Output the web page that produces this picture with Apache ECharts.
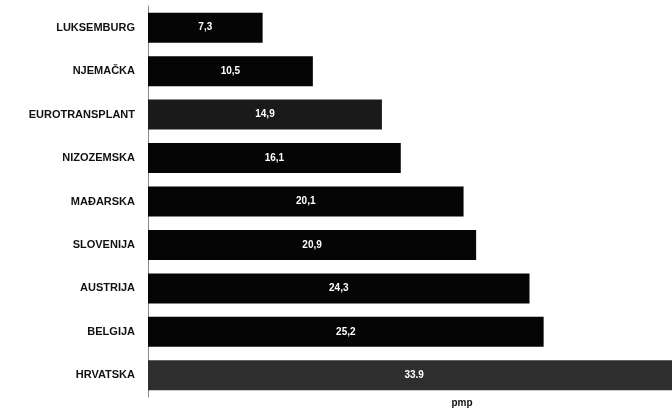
<!DOCTYPE html>
<html>
<head>
<meta charset="utf-8">
<script src="https://cdn.jsdelivr.net/npm/echarts@6/dist/echarts.min.js"></script>
<style>
  html, body { margin: 0; padding: 0; background: #fff; }
  #chart { width: 672px; height: 409px; }
</style>
</head>
<body>
<div id="chart"></div>
<script>
// zemlje, odozgo prema dolje
const countries = ['LUKSEMBURG', 'NJEMAČKA', 'EUROTRANSPLANT', 'NIZOZEMSKA', 'MAĐARSKA', 'SLOVENIJA', 'AUSTRIJA', 'BELGIJA', 'HRVATSKA']
const values = [7.3, 10.5, 14.9, 16.1, 20.1, 20.9, 24.3, 25.2, 33.9]
const valueLabels = ['7,3', '10,5', '14,9', '16,1', '20,1', '20,9', '24,3', '25,2', '33.9']
const barColors = ['#050505', '#050505', '#1a1a1a', '#050505', '#050505', '#050505', '#050505', '#050505', '#2e2e2e']

const myChart = echarts.init(document.getElementById('chart'))

myChart.setOption({
  animation: false,
  grid: {
    left: 148,
    top: 6,
    width: 628, // os ide do 40, desni dio je odrezan kao na slici
    height: 391,
    outerBoundsMode: 'none'
  },
  xAxis: {
    type: 'value',
    min: 0,
    max: 40,
    name: 'pmp',
    nameLocation: 'middle',
    nameGap: 1,
    nameTextStyle: {
      color: '#111',
      fontFamily: 'Liberation Sans',
      fontWeight: 'bold',
      fontSize: 10
    },
    axisLine: { show: false },
    axisTick: { show: false },
    axisLabel: { show: false },
    splitLine: { show: false }
  },
  yAxis: {
    type: 'category',
    data: countries,
    inverse: true,
    axisLine: {
      show: true,
      lineStyle: { color: '#888', width: 1 }
    },
    axisTick: { show: false },
    axisLabel: {
      color: '#111',
      fontFamily: 'Liberation Sans',
      fontWeight: 'bold',
      fontSize: 11,
      margin: 13
    }
  },
  series: [
    {
      type: 'bar',
      barCategoryGap: '31%',
      data: values.map((v, i) => ({
        value: v,
        itemStyle: { color: barColors[i] }
      })),
      label: {
        show: true,
        position: 'inside',
        color: '#fff',
        fontFamily: 'Liberation Sans',
        fontWeight: 'bold',
        fontSize: 10,
        formatter: (p) => valueLabels[p.dataIndex]
      }
    }
  ]
})
</script>
</body>
</html>
